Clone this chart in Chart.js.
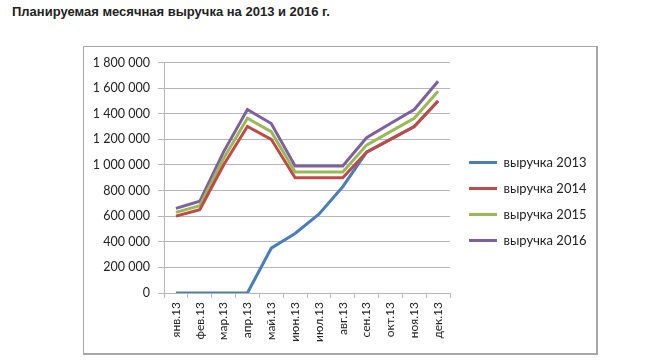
<!DOCTYPE html>
<html>
<head>
<meta charset="utf-8">
<script src="https://cdn.jsdelivr.net/npm/chart.js@4.4.1/dist/chart.umd.min.js"></script>
<style>
  body { margin: 0; background: #fff; }
  #title { position: absolute; left: 12px; top: 4px; font: bold 13px "Liberation Sans", Arial, sans-serif; color: #222; }
  #box { position: absolute; left: 83px; top: 46px; width: 512px; height: 306px;
         border: 1px solid #a6a6a6; border-right-width: 2px; border-bottom-width: 2px; }
</style>
</head>
<body>
<div id="title">Планируемая месячная выручка на 2013 и 2016 г.</div>
<div id="box"><canvas id="chartRevenue"></canvas></div>
<script>
// months along the x-axis
var months = ['янв.13', 'фев.13', 'мар.13', 'апр.13', 'май.13', 'июн.13',
              'июл.13', 'авг.13', 'сен.13', 'окт.13', 'ноя.13', 'дек.13'];
// planned revenue per year
var rev2013 = [0, 0, 0, 0, 350000, 465000, 615000, 830000, 1100000, 1200000, 1300000, 1500000];
var rev2014 = [600000, 650000, 1000000, 1300000, 1200000, 900000, 900000, 900000, 1100000, 1200000, 1300000, 1500000];
var rev2015 = [630000, 682000, 1050000, 1365000, 1260000, 945000, 945000, 945000, 1155000, 1260000, 1365000, 1575000];
var rev2016 = [661000, 716000, 1102000, 1433000, 1323000, 992000, 992000, 992000, 1213000, 1323000, 1433000, 1654000];

var gridColor = '#b5b5b5';
var textFont = { family: 'Lato', size: 12 };

function spaced(v) {
  return String(v).replace(/\B(?=(\d{3})+(?!\d))/g, ' ');
}

// move the legend a little, like in the excel picture
var legendNudge = {
  id: 'legendNudge',
  afterLayout: function (chart) {
    var lg = chart.legend;
    lg.left += 6;
    lg.right = chart.width;
    lg.top -= 6; lg.bottom -= 6;
  }
};

var ctx = document.getElementById('chartRevenue');
var chartRevenue = new Chart(ctx, {
  type: 'line',
  data: {
    labels: months,
    datasets: [
      { label: 'выручка 2013', data: rev2013, borderColor: '#4a7ebb', borderWidth: 3, order: 1 },
      { label: 'выручка 2014', data: rev2014, borderColor: '#be4b48', borderWidth: 3 },
      { label: 'выручка 2015', data: rev2015, borderColor: '#98b954', borderWidth: 3 },
      { label: 'выручка 2016', data: rev2016, borderColor: '#7d60a0', borderWidth: 3 }
    ]
  },
  options: {
    responsive: true,
    maintainAspectRatio: false,
    animation: false,
    layout: { padding: { top: 15, right: 24, left: 0, bottom: 0 } },
    elements: {
      line: { tension: 0, fill: false },
      point: { radius: 0, hoverRadius: 0 }
    },
    scales: {
      x: {
        offset: true,
        grid: { offset: true, drawOnChartArea: false, tickLength: 5, color: gridColor },
        border: { color: gridColor },
        ticks: { minRotation: 90, maxRotation: 90, autoSkip: false, padding: 4, color: '#222', font: textFont },
        afterFit: function (scale) { scale.height = 60; }
      },
      y: {
        min: 0,
        max: 1800000,
        grid: { color: gridColor, tickLength: 6 },
        border: { color: gridColor },
        ticks: { stepSize: 200000, padding: 8, color: '#222', font: { family: 'Lato', size: 12.5 }, callback: spaced },
        afterFit: function (scale) { scale.width = 80; }
      }
    },
    plugins: {
      legend: {
        position: 'right',
        labels: {
          usePointStyle: true,
          pointStyle: 'line',
          pointStyleWidth: 28,
          padding: 13,
          color: '#222',
          font: { family: 'Lato', size: 13 },
          sort: function (a, b) { return a.datasetIndex - b.datasetIndex; }
        }
      },
      tooltip: { enabled: false }
    }
  },
  plugins: [legendNudge]
});
</script>
</body>
</html>
